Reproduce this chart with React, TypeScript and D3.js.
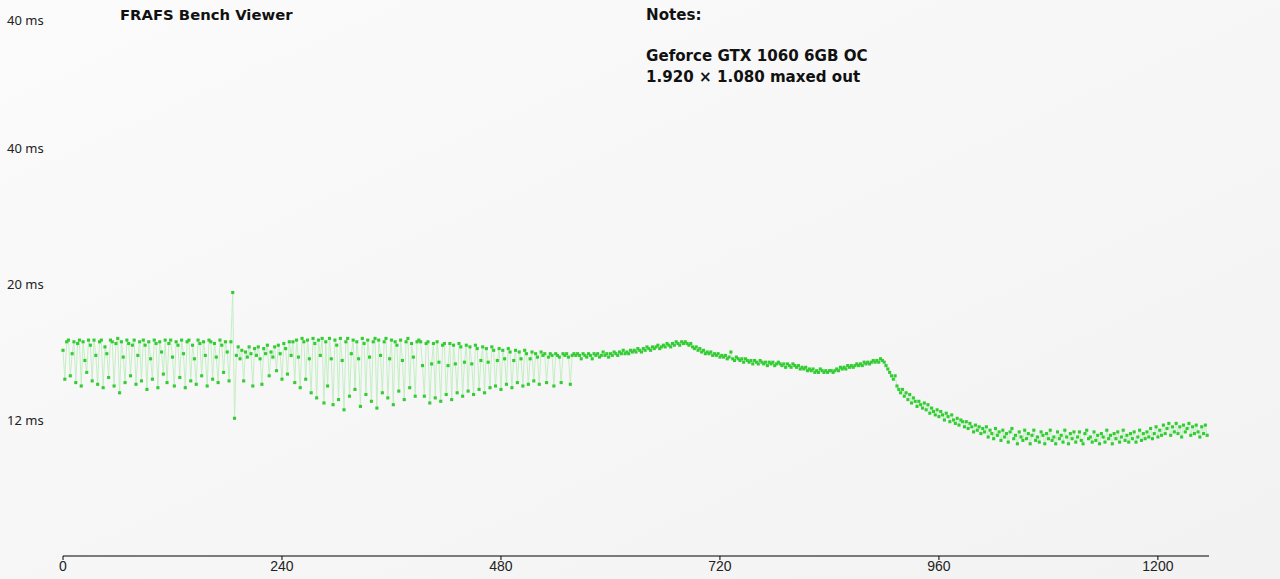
import React from 'react';
import * as d3 from 'd3';

// frame times (ms), frames 0..564, every 2nd frame
const frameTimesA = [
  16.1, 14.4, 16.6, 16.7, 14.6, 15.9, 16.6, 14.2, 16.5, 16.7,
  14.0, 16.6, 15.5, 14.8, 16.7, 16.4, 14.3, 16.7, 15.8, 14.1,
  16.6, 16.7, 13.9, 16.3, 15.9, 14.5, 16.7, 16.6, 14.0, 16.5,
  16.8, 13.6, 16.6, 15.7, 14.2, 16.7, 16.5, 14.6, 16.4, 16.7,
  14.1, 15.8, 16.6, 14.3, 16.7, 16.4, 13.8, 16.6, 15.6, 14.4,
  16.7, 16.5, 13.9, 16.6, 16.0, 14.7, 16.7, 14.2, 16.5, 16.7,
  15.7, 14.0, 16.6, 16.4, 14.5, 16.7, 15.9, 13.9, 16.6, 16.7,
  14.3, 16.4, 15.6, 14.1, 16.7, 16.5, 14.6, 16.6, 15.8, 14.0,
  16.7, 16.6, 14.4, 16.5, 15.7, 14.2, 16.7, 16.4, 14.8, 16.6,
  16.0, 14.3, 16.6,
  19.5, 12.1,
  15.8, 16.3, 15.6, 16.1, 14.3, 16.0, 15.7, 16.3, 15.9, 14.0,
  16.2, 15.8, 16.3, 15.6, 14.1, 16.2, 15.9, 16.4, 14.6, 16.0,
  15.7, 16.3, 14.9, 16.4, 15.9, 14.4, 16.5, 16.2, 14.7, 16.6,
  15.8,
  16.6, 14.2, 16.7, 15.7, 13.9, 16.8, 16.6, 14.4, 16.7, 15.6,
  13.6, 16.8, 16.5, 13.3, 16.7, 15.8, 16.8, 13.0, 16.6, 14.0,
  16.8, 15.6, 12.9, 16.7, 16.4, 13.2, 16.8, 15.5, 12.6, 16.6,
  16.8, 13.4, 15.9, 16.7, 13.8, 16.6, 15.6, 12.8, 16.8, 16.5,
  13.5, 16.7, 15.7, 13.1, 16.6, 16.8, 12.7, 16.7, 15.8, 13.6,
  16.6, 16.8, 13.3, 15.6, 16.7, 12.9, 16.6, 16.4, 13.7, 16.7,
  15.5, 13.2, 16.6, 16.8, 13.9, 16.5, 15.7, 13.4, 16.6, 16.7,
  16.6, 15.2, 13.4, 16.5, 16.6, 13.0, 15.3, 16.5, 13.3, 16.6,
  15.4, 13.1, 16.4, 16.5, 13.5, 15.2, 16.5, 13.2, 16.4, 15.3,
  13.6, 16.5, 16.3, 13.4, 15.4, 16.4, 13.7, 16.3, 15.3, 13.5,
  16.4, 16.2, 13.8, 15.5, 16.3, 13.6, 16.2, 15.4, 13.9, 16.3,
  16.1, 14.0, 15.5, 16.2, 13.8, 16.1, 15.6, 14.1, 16.2, 16.0,
  13.9, 15.5, 16.1, 14.2, 16.0, 15.6, 14.0, 16.1, 15.9, 14.1,
  15.6, 16.0, 14.3, 15.9, 15.7, 14.1, 16.0, 15.8, 15.9, 14.2,
  15.7, 15.9, 15.8, 14.0, 15.9, 15.8, 15.7, 14.2, 15.9, 15.8,
  15.9, 15.7, 14.1, 15.8, 15.9, 15.8, 15.9,
];
// frames 566..908, every 2nd frame
const frameTimesB = [
  15.8, 15.6, 15.9, 15.8, 15.7, 15.9, 15.8, 15.6, 15.9, 15.8,
  15.9, 15.7, 15.8, 16.0, 15.8, 15.9, 15.7, 15.9, 15.8, 16.0,
  15.9, 15.8, 16.0, 15.9, 16.1, 15.9, 16.0, 15.9, 16.1, 16.0,
  16.1, 16.0, 16.2, 16.1, 16.0, 16.2, 16.1, 16.3, 16.2, 16.1,
  16.3, 16.2, 16.3, 16.4, 16.2, 16.3, 16.4, 16.3, 16.5, 16.4,
  16.3, 16.5, 16.4, 16.6, 16.5, 16.4, 16.6, 16.5, 16.6, 16.5,
  16.4, 16.5, 16.3, 16.2, 16.3, 16.1, 16.2, 16.0, 16.1, 15.9,
  16.0, 15.9, 16.0, 15.8, 15.9, 15.8, 15.9, 15.7, 15.8, 15.7,
  15.8, 15.6, 15.7, 16.0, 15.6, 15.5, 15.7, 15.6, 15.5, 15.6,
  15.4, 15.6, 15.5, 15.4, 15.5, 15.3, 15.5, 15.4, 15.3, 15.5,
  15.4, 15.3, 15.4, 15.2, 15.4, 15.3, 15.4, 15.2, 15.3, 15.4,
  15.3, 15.2, 15.3, 15.1, 15.3, 15.2, 15.1, 15.3, 15.2, 15.1,
  15.2, 15.0, 15.1, 15.0, 15.1, 14.9, 15.0, 14.9, 15.0, 14.8,
  14.9, 14.8, 15.0, 14.9, 14.8, 14.9, 14.8, 14.9, 14.9, 14.8,
  14.9, 15.0, 14.9, 15.1, 15.0, 15.1, 15.0, 15.2, 15.1, 15.2,
  15.1, 15.2, 15.3, 15.2, 15.3, 15.2, 15.4, 15.3, 15.4, 15.3,
  15.4, 15.5, 15.4, 15.5, 15.4, 15.6, 15.5, 15.4, 15.2, 15.0,
  14.8, 14.6,
];
// frames 910..1254, every 2nd frame
const frameTimesC = [
  14.4, 14.6, 14.0, 13.8, 13.6, 13.8, 13.4, 13.6, 13.2, 13.5,
  13.0, 13.3, 13.1, 12.8, 13.1, 12.9, 12.7, 13.0, 12.6, 12.9,
  12.4, 12.7, 12.5, 12.3, 12.6, 12.2, 12.5, 12.3, 12.0, 12.4,
  12.2, 11.9, 12.3, 12.0, 11.8, 12.1, 11.7, 12.0, 11.9, 11.6,
  11.9, 11.5, 11.8, 11.6, 11.3, 11.7, 11.4, 11.6, 11.2, 11.5,
  11.3, 11.6, 11.0, 11.4, 11.2, 10.9, 11.5, 11.1, 11.3, 10.8,
  11.4, 11.0, 11.2, 10.7, 11.3, 11.5, 10.9, 11.1, 10.6, 11.3,
  11.0, 10.8, 11.4, 10.9, 11.2, 10.6, 11.1, 11.4, 10.8, 11.0,
  10.7, 11.3, 11.1, 10.6, 11.2, 10.9, 11.4, 10.8, 11.0, 10.6,
  11.3, 10.9, 11.1, 10.7, 11.4, 11.0, 10.6, 11.2, 10.9, 11.3,
  10.7, 11.0, 11.3, 10.8, 10.6, 11.2, 11.4, 10.9, 11.0, 10.7,
  11.3, 10.8, 11.1, 10.6, 11.2, 11.0, 10.7, 11.4, 10.9, 11.1,
  10.6, 11.2, 10.9, 11.3, 10.7, 11.0, 11.4, 10.8, 11.1, 10.7,
  11.2, 10.9, 11.3, 10.7, 11.0, 11.4, 10.8, 11.2, 10.9, 11.3,
  11.0, 11.5, 10.9, 11.2, 11.6, 11.0, 11.4, 11.1, 11.7, 11.2,
  11.5, 11.8, 11.1, 11.6, 11.3, 11.8, 11.2, 11.6, 11.0, 11.7,
  11.3, 11.5, 11.8, 11.1, 11.6, 11.2, 11.7, 11.3, 11.0, 11.6,
  11.2, 11.7, 11.1,
];
const segmentStarts = [0, 566, 910];
const segmentSteps = [2, 2, 2];

const xTicks = [0, 240, 480, 720, 960, 1200];
const xMaxFrame = 1256;
const yTickValues = [12, 20, 40, 60];
const yTickLabels = ['12 ms', '20 ms', '40 ms', '40 ms'];
const titleText = 'FRAFS Bench Viewer';
const notesLines = ['Notes:', '', 'Geforce GTX 1060 6GB OC', '1.920 × 1.080 maxed out'];

const W = 1280;
const H = 579;

export default function App() {
  const x = d3.scaleLinear().domain([0, xMaxFrame]).range([63, 1209]);
  const y = d3.scaleLinear().domain([4, 12, 20, 40, 60]).range([556, 420, 284, 148, 20]);

  const series = [frameTimesA, frameTimesB, frameTimesC];
  const points: { f: number; v: number }[] = [];
  series.forEach((arr, s) => {
    arr.forEach((v, i) => points.push({ f: segmentStarts[s] + i * segmentSteps[s], v }));
  });

  const line = d3
    .line<{ f: number; v: number }>()
    .x((d) => x(d.f))
    .y((d) => y(d.v));

  const axisY = y(4);
  const ms = 3.1;
  const boldFont = "'DejaVu Sans', Verdana, sans-serif";

  return (
    <svg
      width={W}
      height={H}
      style={{ position: 'absolute', left: 0, top: 0, display: 'block' }}
    >
      <defs>
        <linearGradient id="bg" x1="0" y1="0" x2="1" y2="1">
          <stop offset="0" stopColor="#fbfbfb" />
          <stop offset="1" stopColor="#f2f2f2" />
        </linearGradient>
      </defs>
      <rect x={0} y={0} width={W} height={H} fill="url(#bg)" />

      <text x={120} y={20} fontFamily={boldFont} fontWeight="bold" fontSize={14.8} fill="#111">
        {titleText}
      </text>
      {notesLines.map((t, i) => (
        <text key={i} x={646} y={20 + i * 20.5} fontFamily={boldFont} fontWeight="bold" fontSize={15.1} fill="#111">
          {t}
        </text>
      ))}

      {yTickValues.map((v, i) => (
        <text key={i} x={7} y={y(v)} dy="0.35em" fontFamily="'Noto Sans', sans-serif" fontSize={13} fill="#222">
          {yTickLabels[i]}
        </text>
      ))}

      <path d={line(points) || ''} fill="none" stroke="#c4efc4" strokeWidth={1} />
      {points.map((p, i) => (
        <rect key={i} x={x(p.f) - ms / 2} y={y(p.v) - ms / 2} width={ms} height={ms} fill="#33cc33" />
      ))}

      <line x1={x(0)} x2={x(xMaxFrame)} y1={axisY} y2={axisY} stroke="#000" strokeWidth={1} />
      {xTicks.map((t) => (
        <g key={t}>
          <line x1={x(t)} x2={x(t)} y1={axisY} y2={axisY + 4} stroke="#000" />
          <text
            x={x(t)}
            y={axisY + 10}
            dy="0.35em"
            textAnchor="middle"
            fontFamily="'Liberation Sans Narrow', 'Liberation Sans', sans-serif"
            fontSize={14}
            fill="#222"
          >
            {t}
          </text>
        </g>
      ))}
    </svg>
  );
}
